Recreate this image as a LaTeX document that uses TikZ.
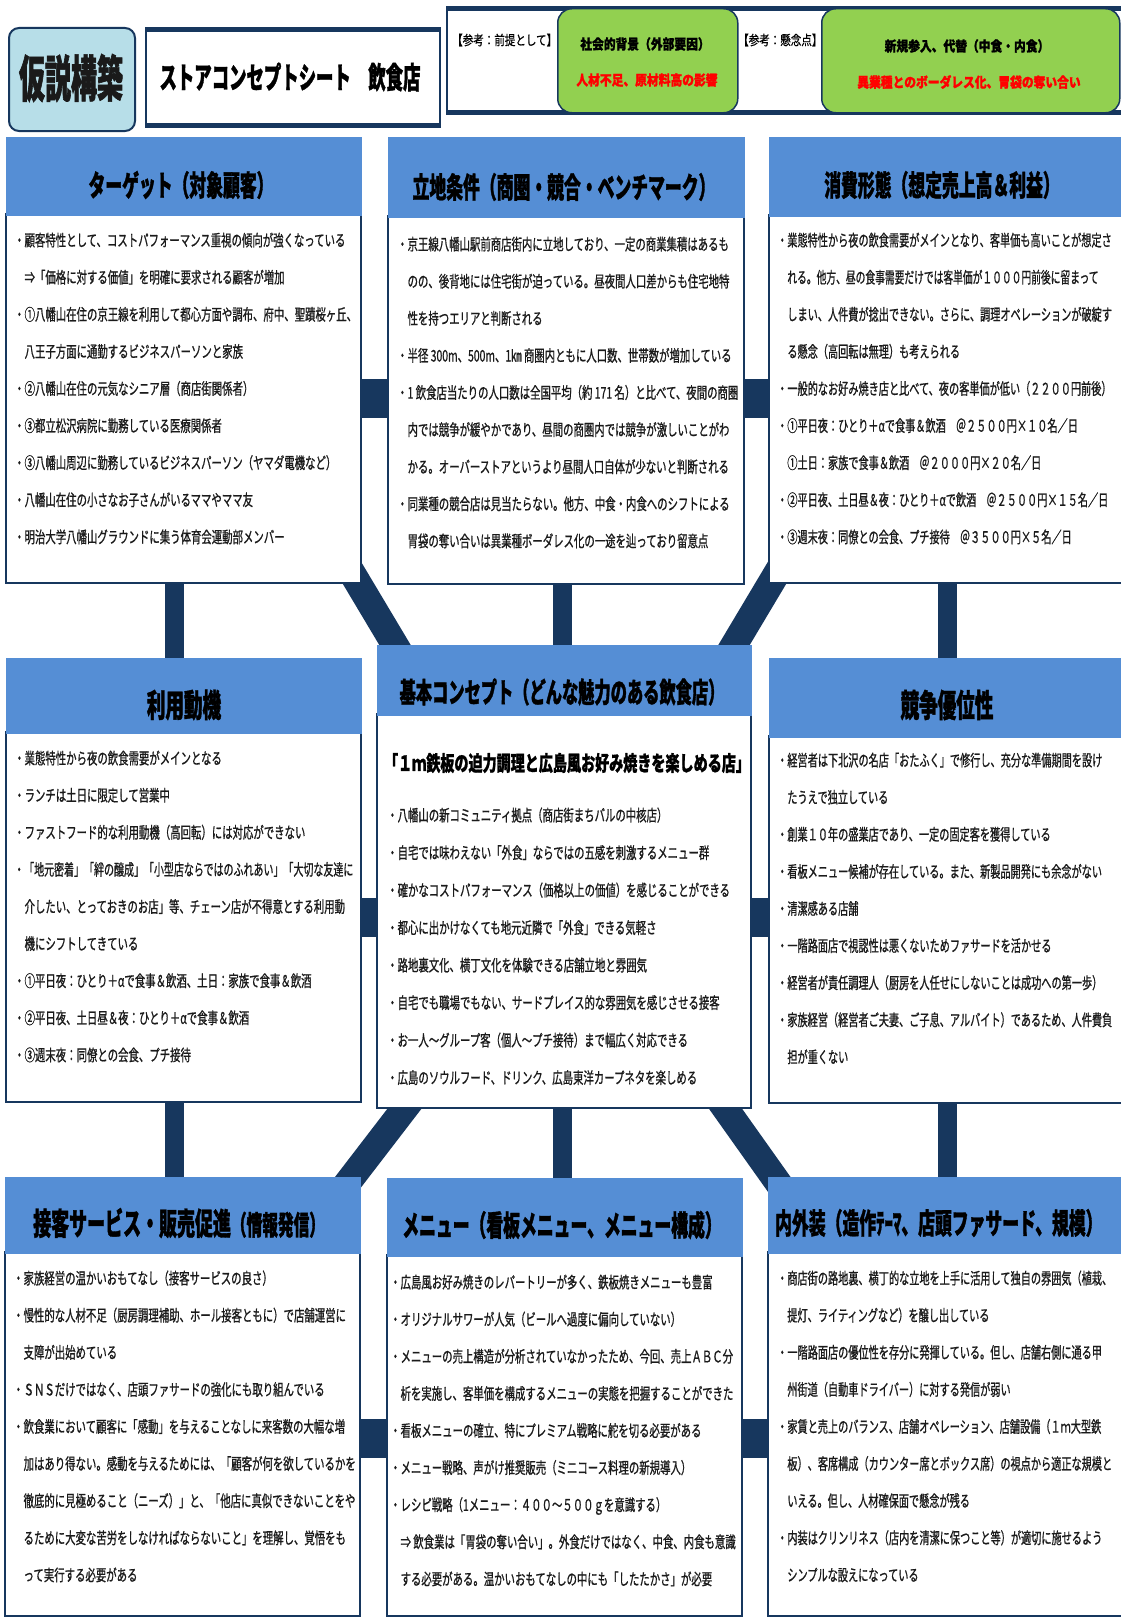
\documentclass[tikz,border=0pt]{standalone}
\usepackage{fontspec}
\newfontfamily\jpbody[FakeStretch=0.65,FakeBold=0.8]{Noto Sans CJK JP}
\newfontfamily\jpbodyr[FakeStretch=0.635,FakeBold=0.8]{Noto Sans CJK JP}
\newfontfamily\jphead[FakeStretch=0.58,FakeBold=1.2]{Noto Sans CJK JP}
\newfontfamily\jpbig[FakeStretch=0.52,FakeBold=1.2]{Noto Sans CJK JP}
\newfontfamily\jpsub[FakeStretch=0.67,FakeBold=1]{Noto Sans CJK JP}
\newfontfamily\jpgreen[FakeStretch=0.84,FakeBold=1.2]{Noto Sans CJK JP}
\newfontfamily\jpref[FakeStretch=0.78,FakeBold=0.6]{Noto Sans CJK JP}
\usetikzlibrary{calc,backgrounds}
\pgfdeclarelayer{bottom}
\pgfsetlayers{bottom,background,main}
\definecolor{navy}{HTML}{17375E}
\definecolor{hblue}{HTML}{558ED5}
\definecolor{lblue}{HTML}{B7DEE8}
\definecolor{grn}{HTML}{92D050}
\definecolor{txt}{HTML}{1A1A1A}
\newcommand{\fstln}{\rule{0pt}{15pt}}
\newcommand{\jind}{\phantom{・}}
\tikzset{
  hdr/.style={anchor=north west, fill=hblue, draw=hblue, line width=0.6pt, inner sep=0, outer sep=0},
  bodybox/.style={anchor=north west, fill=white, draw=navy, line width=2pt, inner sep=0, outer sep=0},
  htext/.style={font=\jphead\bfseries\fontsize{29}{34}\selectfont, inner sep=0, text=black},
  btext/.style={anchor=north west, inner sep=0, align=left, text=txt, font=\jpbody\fontsize{16}{37.1}\selectfont},
  btextr/.style={btext, font=\jpbodyr\fontsize{16}{37.1}\selectfont},
  hbar/.style={draw=navy, line width=39pt, shorten <=-4pt, shorten >=-4pt},
  vbar/.style={draw=navy, line width=19pt, shorten <=-4pt, shorten >=-4pt},
  dbar/.style={draw=navy, line width=27pt, shorten <=-40pt, shorten >=-30pt},
  greenbox/.style={anchor=north west, fill=grn, draw=navy, line width=1.5pt, rounded corners=14pt},
  gtext/.style={font=\jpgreen\bfseries\fontsize{14}{16}\selectfont, inner sep=0},
  rtext/.style={font=\jpref\fontsize{13.5}{15}\selectfont, inner sep=0, anchor=west}
}
\begin{document}
\begin{tikzpicture}[x=1pt,y=-1pt]
\useasboundingbox (0,0) rectangle (1121,1619);
\begin{pgfonlayer}{bottom}
\fill[white] (0,0) rectangle (1121,1619);
\end{pgfonlayer}

% ---------- top strip ----------
\node[anchor=north west, fill=lblue, draw=navy, line width=2pt, rounded corners=10pt,
      minimum width=126, minimum height=103] (kasetsu) at (8,27) {};
\node[font=\jpbig\bfseries\fontsize{50}{55}\selectfont, inner sep=0, text=txt] (kasetsut) at (71,78) {仮説構築};

\node[anchor=north west, draw=navy, line width=2pt, minimum width=294, minimum height=93] (ttl) at (145,30) {};
\draw[navy, line width=5pt] (ttl.north west) -- (ttl.north east);
\draw[navy, line width=5pt] (ttl.south west) -- (ttl.south east);
\node[font=\jphead\bfseries\fontsize{30}{34}\selectfont, inner sep=0] (ttlt) at (290,77) {ストアコンセプトシート　飲食店};

\node[anchor=north west, draw=navy, line width=1.5pt, minimum width=690, minimum height=102] (ref) at (446,9) {};
\draw[navy, line width=5pt] (ref.north west) -- (ref.north east);
\draw[navy, line width=5pt] (ref.south west) -- (ref.south east);
\node[rtext] (r1) at (452,40) {【参考：前提として】};
\node[greenbox, minimum width=180, minimum height=104] (g1) at (557,8) {};
\node[gtext] (g1a) at (645,44) {社会的背景（外部要因）};
\node[gtext, text=red] (g1b) at (647,80) {人材不足、原材料高の影響};
\node[rtext] (r2) at (738,40) {【参考：懸念点】};
\node[greenbox, minimum width=298, minimum height=104] (g2) at (821,8) {};
\node[gtext] (g2a) at (967,46) {新規参入、代替（中食・内食）};
\node[gtext, text=red] (g2b) at (969,82) {異業種とのボーダレス化、胃袋の奪い合い};

% ---------- boxes ----------
\node[bodybox, minimum width=355, minimum height=369] (tlb) at (6,214) {};
\node[hdr, minimum width=355, minimum height=78] (tlh) at (6,137) {};
\node[bodybox, minimum width=356, minimum height=368] (tmb) at (388,216) {};
\node[hdr, minimum width=356, minimum height=80] (tmh) at (388,137) {};
\node[bodybox, minimum width=361, minimum height=368] (trb) at (769,215) {};
\node[hdr, minimum width=361, minimum height=79] (trh) at (769,137) {};

\node[bodybox, minimum width=355, minimum height=370] (mlb) at (6,732) {};
\node[hdr, minimum width=355, minimum height=75] (mlh) at (6,658) {};
\node[bodybox, minimum width=374, minimum height=394] (cb) at (377,714) {};
\node[hdr, minimum width=374, minimum height=70] (ch) at (377,645) {};
\node[bodybox, minimum width=361, minimum height=367] (mrb) at (769,736) {};
\node[hdr, minimum width=361, minimum height=79] (mrh) at (769,658) {};

\node[bodybox, minimum width=355, minimum height=364] (blb) at (5,1252) {};
\node[hdr, minimum width=355, minimum height=76] (blh) at (5,1177) {};
\node[bodybox, minimum width=355, minimum height=361] (bmb) at (387,1255) {};
\node[hdr, minimum width=355, minimum height=78] (bmh) at (387,1178) {};
\node[bodybox, minimum width=362, minimum height=364] (brb) at (768,1252) {};
\node[hdr, minimum width=362, minimum height=76] (brh) at (768,1177) {};

% ---------- header texts ----------
\node[htext] (tlht) at (181,185) {ターゲット（対象顧客）};
\node[htext] (tmht) at (564,187) {立地条件（商圏・競合・ベンチマーク）};
\node[htext] (trht) at (942,185) {消費形態（想定売上高＆利益）};
\node[htext, font=\jphead\bfseries\fontsize{32}{36}\selectfont] (mlht) at (184,705) {利用動機};
\node[htext, font=\jphead\bfseries\fontsize{28}{32}\selectfont] (cht) at (562,692) {基本コンセプト（どんな魅力のある飲食店）};
\node[htext, font=\jphead\bfseries\fontsize{32}{36}\selectfont] (mrht) at (947,705) {競争優位性};
\node[htext, anchor=west, font=\jphead\bfseries\fontsize{31}{36}\selectfont] (blht) at (33,1223) {接客サービス・販売促進{\fontsize{27}{30}\selectfont（情報発信）}};
\node[htext] (bmht) at (562,1225) {メニュー（看板メニュー、メニュー構成）};
\node[htext, anchor=west] (brht) at (775,1223) {内外装（造作ﾃｰﾏ、店頭ファサード、規模）};

% ---------- body texts ----------
\node[btext] (tlt) at (14,231) {\fstln{}・顧客特性として、コストパフォーマンス重視の傾向が強くなっている\\
\jind{}⇒「価格に対する価値」を明確に要求される顧客が増加\\
・①八幡山在住の京王線を利用して都心方面や調布、府中、聖蹟桜ヶ丘、\\
\jind{}八王子方面に通勤するビジネスパーソンと家族\\
・②八幡山在住の元気なシニア層（商店街関係者）\\
・③都立松沢病院に勤務している医療関係者\\
・③八幡山周辺に勤務しているビジネスパーソン（ヤマダ電機など）\\
・八幡山在住の小さなお子さんがいるママやママ友\\
・明治大学八幡山グラウンドに集う体育会運動部メンバー};

\node[btext] (tmt) at (397,235) {\fstln{}・京王線八幡山駅前商店街内に立地しており、一定の商業集積はあるも\\
\jind{}のの、後背地には住宅街が迫っている。昼夜間人口差からも住宅地特\\
\jind{}性を持つエリアと判断される\\
・半径 300m、500m、1㎞ 商圏内ともに人口数、世帯数が増加している\\
・1 飲食店当たりの人口数は全国平均（約 171 名）と比べて、夜間の商圏\\
\jind{}内では競争が緩やかであり、昼間の商圏内では競争が激しいことがわ\\
\jind{}かる。オーバーストアというより昼間人口自体が少ないと判断される\\
・同業種の競合店は見当たらない。他方、中食・内食へのシフトによる\\
\jind{}胃袋の奪い合いは異業種ボーダレス化の一途を辿っており留意点};

\node[btextr] (trt) at (777,231) {\fstln{}・業態特性から夜の飲食需要がメインとなり、客単価も高いことが想定さ\\
\jind{}\scalebox{0.96}[1]{れる。他方、昼の食事需要だけでは客単価が１０００円前後に留まって}\\
\jind{}しまい、人件費が捻出できない。さらに、調理オペレーションが破綻す\\
\jind{}る懸念（高回転は無理）も考えられる\\
・一般的なお好み焼き店と比べて、夜の客単価が低い（２２００円前後）\\
・①平日夜：ひとり＋αで食事＆飲酒　＠２５００円×１０名／日\\
\jind{}①土日：家族で食事＆飲酒　＠２０００円×２０名／日\\
・②平日夜、土日昼＆夜：ひとり＋αで飲酒　＠２５００円×１５名／日\\
・③週末夜：同僚との会食、プチ接待　＠３５００円×５名／日};

\node[btext] (mlt) at (14,749) {\fstln{}・業態特性から夜の飲食需要がメインとなる\\
・ランチは土日に限定して営業中\\
・ファストフード的な利用動機（高回転）には対応ができない\\
\scalebox{0.96}[1]{・「地元密着」「絆の醸成」「小型店ならではのふれあい」「大切な友達に}\\
\jind{}介したい、とっておきのお店」等、チェーン店が不得意とする利用動\\
\jind{}機にシフトしてきている\\
・①平日夜：ひとり＋αで食事＆飲酒、土日：家族で食事＆飲酒\\
・②平日夜、土日昼＆夜：ひとり＋αで食事＆飲酒\\
・③週末夜：同僚との会食、プチ接待};

\node[font=\jpsub\bfseries\fontsize{21}{24}\selectfont, inner sep=0] (csub) at (567,763) {「１ｍ鉄板の迫力調理と広島風お好み焼きを楽しめる店」};
\node[btext, font=\jpbody\fontsize{16}{37.5}\selectfont] (ct) at (387,806) {\fstln{}・八幡山の新コミュニティ拠点（商店街まちバルの中核店）\\
・自宅では味わえない「外食」ならではの五感を刺激するメニュー群\\
・確かなコストパフォーマンス（価格以上の価値）を感じることができる\\
・都心に出かけなくても地元近隣で「外食」できる気軽さ\\
・路地裏文化、横丁文化を体験できる店舗立地と雰囲気\\
・自宅でも職場でもない、サードプレイス的な雰囲気を感じさせる接客\\
・お一人～グループ客（個人～プチ接待）まで幅広く対応できる\\
・広島のソウルフード、ドリンク、広島東洋カープネタを楽しめる};

\node[btextr] (mrt) at (777,751) {\fstln{}・経営者は下北沢の名店「おたふく」で修行し、充分な準備期間を設け\\
\jind{}たうえで独立している\\
・創業１０年の盛業店であり、一定の固定客を獲得している\\
・看板メニュー候補が存在している。また、新製品開発にも余念がない\\
・清潔感ある店舗\\
・一階路面店で視認性は悪くないためファサードを活かせる\\
・経営者が責任調理人（厨房を人任せにしないことは成功への第一歩）\\
・家族経営（経営者ご夫妻、ご子息、アルバイト）であるため、人件費負\\
\jind{}担が重くない};

\node[btext] (blt) at (13,1269) {\fstln{}・家族経営の温かいおもてなし（接客サービスの良さ）\\
・慢性的な人材不足（厨房調理補助、ホール接客ともに）で店舗運営に\\
\jind{}支障が出始めている\\
・ＳＮＳだけではなく、店頭ファサードの強化にも取り組んでいる\\
・飲食業において顧客に「感動」を与えることなしに来客数の大幅な増\\
\jind{}加はあり得ない。感動を与えるためには、「顧客が何を欲しているかを\\
\jind{}徹底的に見極めること（ニーズ）」と、「他店に真似できないことをや\\
\jind{}るために大変な苦労をしなければならないこと」を理解し、覚悟をも\\
\jind{}って実行する必要がある};

\node[btext] (bmt) at (390,1273) {\fstln{}・広島風お好み焼きのレパートリーが多く、鉄板焼きメニューも豊富\\
・オリジナルサワーが人気（ビールへ過度に偏向していない）\\
・メニューの売上構造が分析されていなかったため、今回、売上ＡＢＣ分\\
\jind{}析を実施し、客単価を構成するメニューの実態を把握することができた\\
・看板メニューの確立、特にプレミアム戦略に舵を切る必要がある\\
・メニュー戦略、声がけ推奨販売（ミニコース料理の新規導入）\\
・レシピ戦略（1メニュー：４００～５００ｇを意識する）\\
\jind{}⇒ 飲食業は「胃袋の奪い合い」。外食だけではなく、中食、内食も意識\\
\jind{}する必要がある。温かいおもてなしの中にも「したたかさ」が必要};

\node[btextr] (brt) at (777,1269) {\fstln{}・商店街の路地裏、横丁的な立地を上手に活用して独自の雰囲気（植栽、\\
\jind{}提灯、ライティングなど）を醸し出している\\
・一階路面店の優位性を存分に発揮している。但し、店舗右側に通る甲\\
\jind{}州街道（自動車ドライバー）に対する発信が弱い\\
・家賃と売上のバランス、店舗オペレーション、店舗設備（１ｍ大型鉄\\
\jind{}板）、客席構成（カウンター席とボックス席）の視点から適正な規模と\\
\jind{}いえる。但し、人材確保面で懸念が残る\\
・内装はクリンリネス（店内を清潔に保つこと等）が適切に施せるよう\\
\jind{}シンプルな設えになっている};

% ---------- connectors (behind) ----------
\coordinate (xl) at (174,0);
\coordinate (xc) at (562.5,0);
\coordinate (xr) at (947.5,0);
\begin{pgfonlayer}{background}
\draw[hbar] (tlb.east) -- (tlb.east -| tmb.west);
\draw[hbar] (tmb.east |- tlb.east) -- (trb.west |- tlb.east);
\draw[hbar] (mlb.east) -- (mlb.east -| cb.west);
\draw[hbar] (cb.east |- mlb.east) -- (mrb.west |- mlb.east);
\draw[hbar] ([yshift=-4pt]blb.east) -- ([yshift=-4pt]blb.east -| bmb.west);
\draw[hbar] ([yshift=-4pt]bmb.east |- blb.east) -- ([yshift=-4pt]brb.west |- blb.east);
\draw[vbar] (tlb.south -| xl) -- (mlh.north -| xl);
\draw[vbar] (tmb.south -| xc) -- (ch.north -| xc);
\draw[vbar] (trb.south -| xr) -- (mrh.north -| xr);
\draw[vbar] (mlb.south -| xl) -- (blh.north -| xl);
\draw[vbar] (cb.south -| xc) -- (bmh.north -| xc);
\draw[vbar] (mrb.south -| xr) -- (brh.north -| xr);
\draw[dbar] ($(tlb.south east)+(-3,0)$) -- ($(ch.north west)+(18,0)$);
\draw[dbar] ($(trb.south west)+(2,0)$) -- ($(ch.north east)+(-17,0)$);
\draw[dbar] ($(blh.north east)+(-8,0)$) -- ($(cb.south west)+(28,0)$);
\draw[dbar] ($(brh.north west)+(6,0)$) -- ($(cb.south east)+(-26,0)$);
\end{pgfonlayer}
\end{tikzpicture}
\end{document}
